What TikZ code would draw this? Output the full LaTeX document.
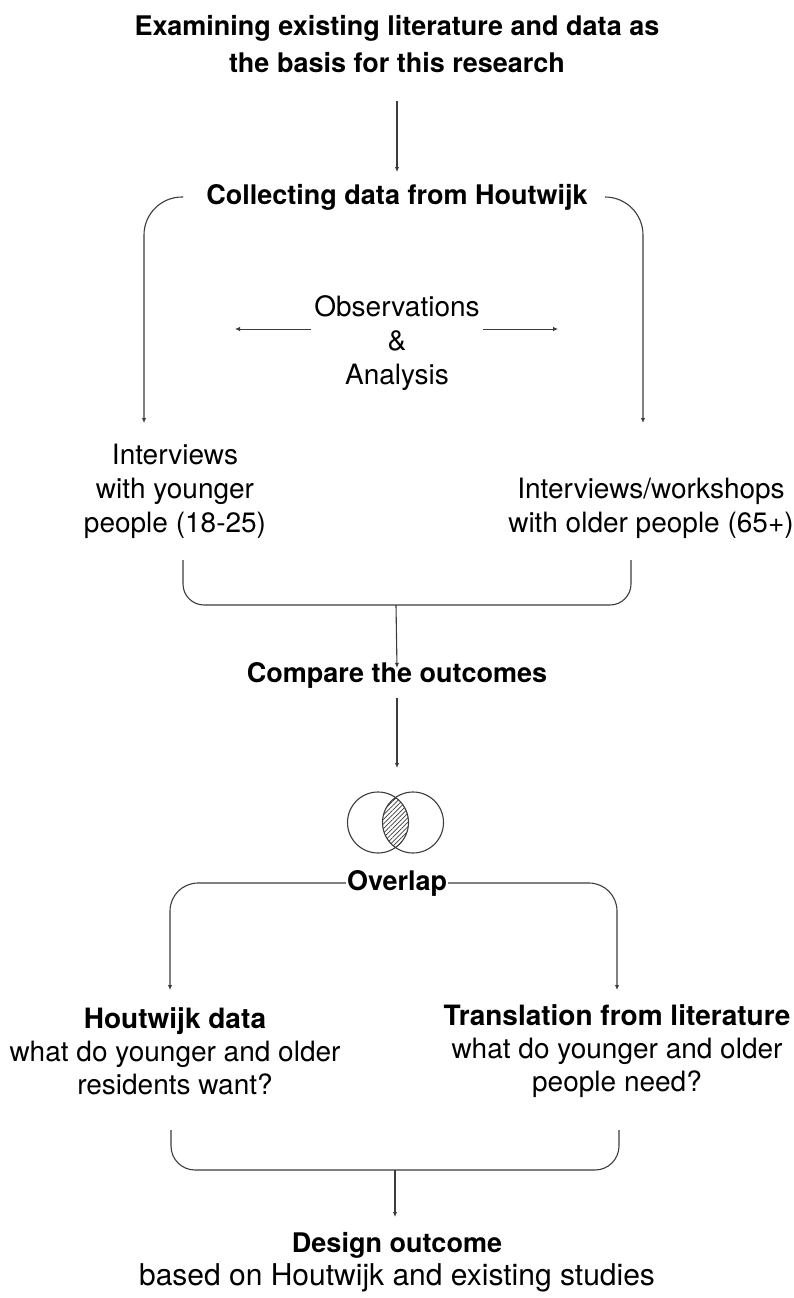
\documentclass[tikz,border=0pt]{standalone}
\usepackage{fontspec}
\setmainfont{TeX Gyre Heros}
\usetikzlibrary{arrows.meta,patterns.meta}
\definecolor{linegray}{HTML}{3C3C3C}
\begin{document}
\begin{tikzpicture}[x=1pt,y=-1pt,
  line/.style={draw=linegray, line width=1.1pt},
  arr/.style={line, -{Latex[length=5pt,width=4.5pt]}},
  head/.style={font=\fontsize{27}{37}\selectfont\bfseries, align=center, inner sep=0pt},
  body/.style={font=\fontsize{28}{34}\selectfont, align=center, inner sep=0pt},
  mixed/.style={font=\fontsize{28}{33}\selectfont, align=center, inner sep=0pt}]
\fill[white] (0,0) rectangle (794,1298);
\useasboundingbox (0,0) rectangle (794,1298);

% ---- text blocks ----
\node[head] (title) at (397,44) {Examining existing literature and data as\\the basis for this research};
\node[head] (collect) at (397,197) {Collecting data from Houtwijk};
\node[body] (obs) at (397,343) {Observations\\\&\\Analysis};
\node[body] (young) at (175,491) {Interviews\\with younger\\people (18-25)};
\node[body] (old) at (651,508) {Interviews/workshops\\with older people (65+)};
\node[head] (compare) at (397,675) {Compare the outcomes};
\node[head, fill=white, inner xsep=1pt] (overlap) at (397,883) {Overlap};
\node[mixed] (hdata) at (175,1051) {\textbf{Houtwijk data}\\what do younger and older\\residents want?};
\node[mixed] (trans) at (617,1051) {\textbf{Translation from literature}\\what do younger and older\\people need?};
\node[font=\fontsize{30}{33}\selectfont, align=center, inner sep=0pt] (design) at (397,1262)
  {{\fontsize{27}{33}\selectfont\bfseries Design outcome}\\based on Houtwijk and existing studies};

% ---- connector end points ----
\coordinate (a1s) at (397,101);
\coordinate (a1e) at (397,172);
\coordinate (iL) at (144,423);
\coordinate (iR) at (643,423);
\coordinate (oL) at (235,329);
\coordinate (oR) at (558,329);
\coordinate (b1L) at (183,560);
\coordinate (b1M) at (396,605);
\coordinate (b1R) at (631,560);
\coordinate (a2s) at (397,698);
\coordinate (a2e) at (397,768);
\coordinate (vL) at (378,822.5);
\coordinate (vR) at (413,822.5);
\coordinate (hL) at (170,990);
\coordinate (hR) at (617,990);
\coordinate (b2L) at (171,1130);
\coordinate (b2M) at (395,1170);
\coordinate (b2R) at (619,1130);
\coordinate (dEnd) at (395,1217);

% ---- connectors ----
\draw[arr] (a1s) -- (a1e);
\draw[arr, rounded corners=38pt] ([xshift=-23pt]collect.west) -| (iL);
\draw[arr, rounded corners=38pt] ([xshift=18pt]collect.east) -| (iR);
\draw[arr, line width=0.8pt] ([xshift=-3pt]obs.west |- oL) -- (oL);
\draw[arr, line width=0.8pt] ([xshift=3pt]obs.east |- oR) -- (oR);
\draw[line, rounded corners=21pt] (b1L) |- (b1M) -| (b1R);
\draw[arr] (b1M) -- ([yshift=-6pt]compare.north);
\draw[arr] (a2s) -- (a2e);

% Venn diagram with hatched intersection
\begin{scope}
  \clip (vL) circle (30.5);
  \fill[pattern={Lines[angle=45, distance=3.2pt, line width=0.7pt]}, pattern color=linegray] (vR) circle (30.5);
\end{scope}
\draw[line] (vL) circle (30.5);
\draw[line] (vR) circle (30.5);

\draw[arr, rounded corners=28pt] (overlap.west) -| (hL);
\draw[arr, rounded corners=28pt] (overlap.east) -| (hR);
\draw[line, rounded corners=24pt] (b2L) |- (b2M) -| (b2R);
\draw[arr] (b2M) -- (dEnd);
\end{tikzpicture}
\end{document}
